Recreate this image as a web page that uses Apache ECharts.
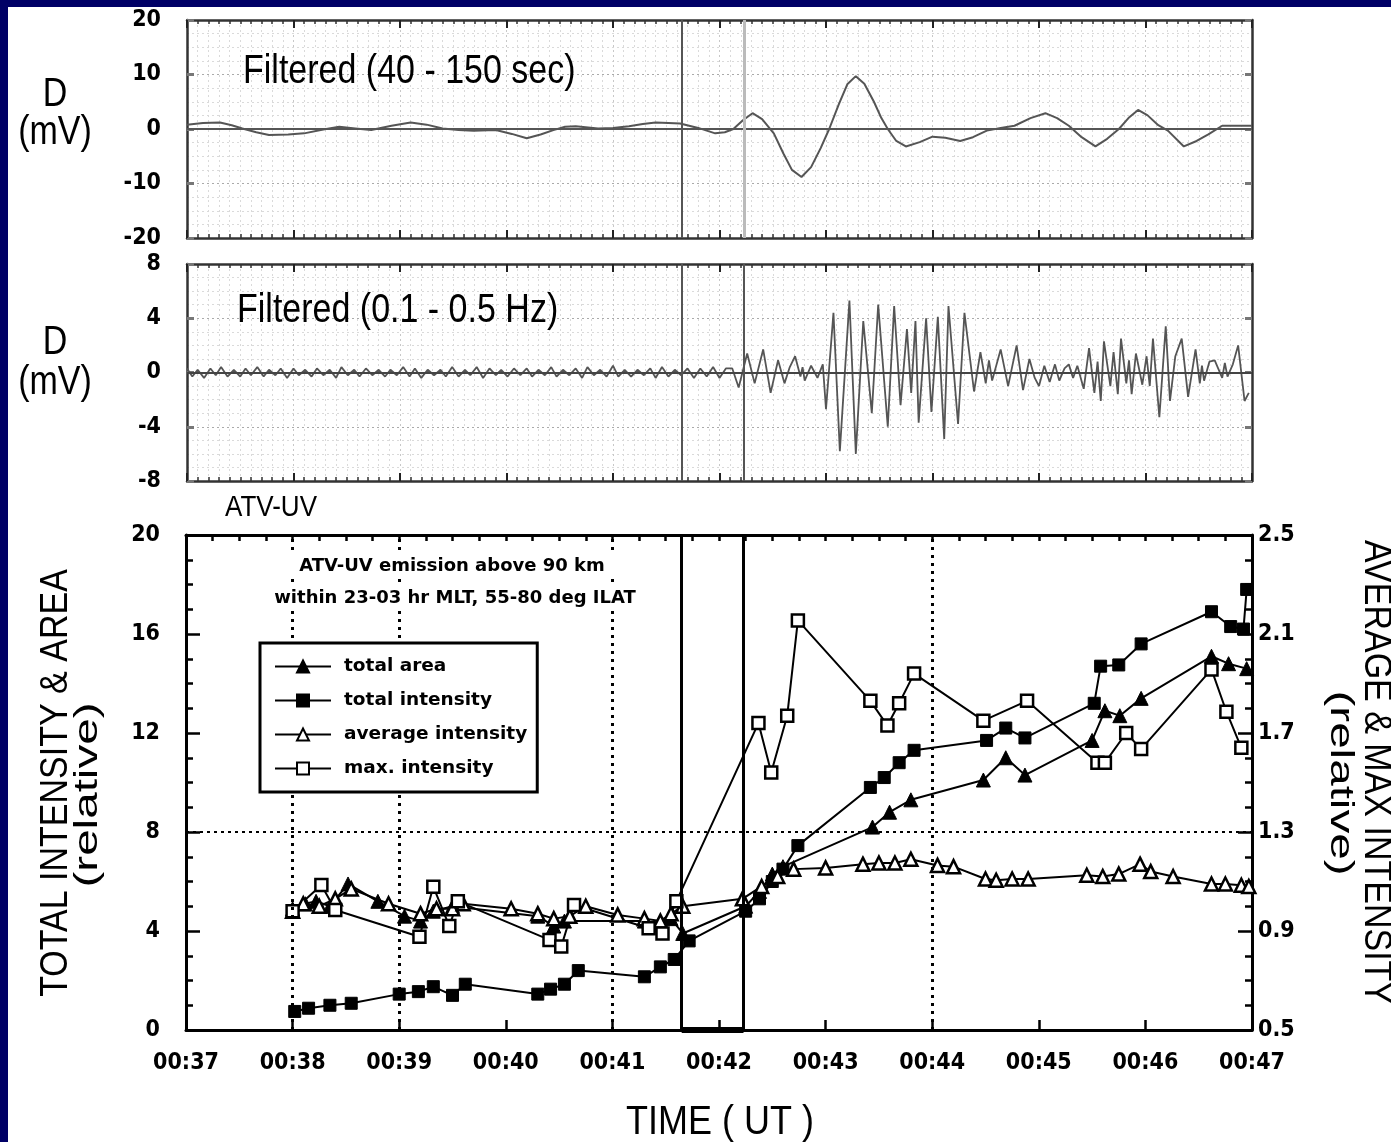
<!DOCTYPE html>
<html><head><meta charset="utf-8">
<script src="https://cdn.jsdelivr.net/npm/echarts@6/dist/echarts.min.js"></script>
<style>html,body{margin:0;padding:0;background:#fff}#c{width:1391px;height:1142px}</style>
</head><body><div id="c"></div>
<script>
// ---------- data ----------
const timeLabels = ['00:37','00:38','00:39','00:40','00:41','00:42','00:43','00:44','00:45','00:46','00:47'];
const eventTimes = [41.65, 42.23];
const dottedTimes = [38, 39, 41, 44];
const dottedLevel = 8;

const seriesNames = ['total area', 'total intensity', 'average intensity', 'max. intensity'];

// Filtered (40 - 150 sec), [time (min after 00:00), mV]
const p1Signal = [[37.00,0.8],[37.15,1.1],[37.31,1.2],[37.42,0.7],[37.52,0.1],[37.65,-0.6],[37.77,-1.1],[37.95,-1.0],[38.10,-0.8],[38.28,-0.1],[38.43,0.4],[38.58,0.1],[38.73,-0.2],[38.92,0.6],[39.10,1.2],[39.25,0.8],[39.40,0.1],[39.55,-0.2],[39.69,-0.3],[39.90,-0.2],[40.05,-0.9],[40.19,-1.7],[40.32,-1.0],[40.44,-0.2],[40.55,0.4],[40.65,0.5],[40.86,0.1],[41.00,0.2],[41.15,0.5],[41.28,0.9],[41.40,1.2],[41.52,1.1],[41.63,1.0],[41.80,0.2],[41.96,-0.8],[42.05,-0.6],[42.13,0.0],[42.22,1.6],[42.31,2.9],[42.40,1.8],[42.51,-0.8],[42.60,-4.5],[42.68,-7.5],[42.77,-8.8],[42.86,-7.0],[42.95,-3.5],[43.03,0.0],[43.12,4.5],[43.20,8.2],[43.28,9.7],[43.36,8.3],[43.45,5.0],[43.52,2.0],[43.58,0.0],[43.66,-2.2],[43.75,-3.2],[43.88,-2.4],[44.00,-1.4],[44.12,-1.6],[44.26,-2.2],[44.38,-1.5],[44.51,-0.3],[44.64,0.2],[44.77,0.6],[44.92,2.0],[45.06,2.9],[45.17,2.0],[45.28,0.6],[45.40,-1.5],[45.53,-3.2],[45.64,-1.8],[45.75,0.0],[45.84,2.0],[45.93,3.5],[46.02,2.5],[46.12,0.7],[46.21,-0.3],[46.36,-3.2],[46.48,-2.2],[46.59,-1.0],[46.72,0.6],[46.85,0.6],[47.00,0.6]];

// Filtered (0.1 - 0.5 Hz), [time, mV]
const p2Signal = [[37.00,0.3],[37.05,-0.3],[37.10,0.2],[37.16,-0.4],[37.22,0.3],[37.27,-0.2],[37.32,0.4],[37.38,-0.3],[37.44,0.2],[37.50,-0.3],[37.55,0.3],[37.60,-0.2],[37.66,0.4],[37.72,-0.3],[37.77,0.2],[37.83,-0.2],[37.88,0.3],[37.94,-0.4],[38.00,0.3],[38.05,-0.2],[38.11,0.2],[38.17,-0.3],[38.22,0.3],[38.28,-0.2],[38.34,0.2],[38.40,-0.4],[38.45,0.4],[38.51,-0.2],[38.57,0.2],[38.62,-0.3],[38.68,0.3],[38.74,-0.2],[38.80,0.2],[38.86,-0.3],[38.91,0.2],[38.97,-0.2],[39.03,0.4],[39.09,-0.3],[39.14,0.3],[39.20,-0.4],[39.26,0.2],[39.32,-0.2],[39.38,0.2],[39.43,-0.3],[39.49,0.4],[39.55,-0.3],[39.61,0.2],[39.66,-0.2],[39.72,0.4],[39.78,-0.4],[39.84,0.3],[39.90,-0.2],[39.95,0.2],[40.01,-0.3],[40.07,0.3],[40.13,-0.2],[40.19,0.3],[40.24,-0.3],[40.30,0.2],[40.36,-0.2],[40.42,0.4],[40.47,-0.3],[40.53,0.2],[40.59,-0.2],[40.65,0.3],[40.71,-0.4],[40.76,0.4],[40.82,-0.2],[40.88,0.2],[40.94,-0.3],[41.00,0.5],[41.05,-0.3],[41.11,0.2],[41.17,-0.3],[41.23,0.2],[41.29,-0.2],[41.35,0.3],[41.40,-0.4],[41.46,0.4],[41.52,-0.3],[41.58,0.2],[41.64,-0.2],[41.70,0.3],[41.76,-0.4],[41.82,0.3],[41.88,-0.3],[41.94,0.4],[42.00,-0.4],[42.06,0.3],
[42.12,0.3],[42.18,-1.1],[42.26,1.4],[42.33,-0.8],[42.41,1.7],[42.48,-1.5],[42.55,0.9],[42.61,-0.8],[42.66,0.4],[42.71,1.2],[42.76,-0.3],[42.78,0.4],[42.80,-0.6],[42.86,0.5],[42.92,-0.4],[42.97,0.6],[43.00,-2.7],[43.07,4.4],[43.13,-5.8],[43.22,5.3],[43.28,-6.0],[43.35,3.8],[43.43,-3.0],[43.49,5.0],[43.58,-4.0],[43.64,4.9],[43.70,-2.4],[43.76,3.2],[43.80,-1.5],[43.84,3.8],[43.87,-3.7],[43.94,4.0],[43.99,-2.9],[44.05,4.1],[44.11,-4.9],[44.15,4.9],[44.24,-3.8],[44.30,4.4],[44.39,-1.4],[44.45,1.5],[44.50,-0.8],[44.53,0.9],[44.56,-0.6],[44.64,1.7],[44.71,-1.0],[44.79,2.0],[44.85,-1.3],[44.91,1.0],[44.96,-0.4],[45.00,-1.0],[45.05,0.5],[45.10,-0.7],[45.15,0.6],[45.19,-0.6],[45.24,0.3],[45.28,0.6],[45.32,-0.4],[45.36,0.5],[45.42,-1.2],[45.47,1.8],[45.52,-1.5],[45.55,0.8],[45.58,-2.1],[45.61,2.3],[45.67,-1.0],[45.70,1.5],[45.74,-1.6],[45.77,2.5],[45.82,-0.8],[45.845,0.9],[45.87,-1.6],[45.91,1.4],[45.97,-0.9],[46.01,1.2],[46.04,-1.0],[46.07,2.5],[46.13,-3.3],[46.19,3.4],[46.23,-2.1],[46.28,1.2],[46.34,2.5],[46.40,-1.8],[46.47,1.7],[46.51,-0.8],[46.53,0.5],[46.55,-0.6],[46.60,0.8],[46.65,0.9],[46.72,-0.4],[46.745,0.7],[46.77,-0.3],[46.82,0.6],[46.87,2.0],[46.93,-2.1],[46.97,-1.5]];

// ATV-UV (left axis, relative)
const totalArea = [[38.00,4.9],[38.12,5.1],[38.22,5.2],[38.35,5.0],[38.52,5.9],[38.80,5.2],[39.05,4.6],[39.20,4.4],[39.32,4.8],[39.50,5.0],[40.30,4.6],[40.45,4.2],[40.55,4.4],[41.30,4.4],[41.45,4.3],[41.55,4.5],[41.66,3.9],[42.25,5.0],[42.38,5.6],[42.50,6.3],[42.60,6.6],[43.44,8.2],[43.60,8.8],[43.80,9.3],[44.48,10.1],[44.69,11.0],[44.87,10.3],[45.50,11.7],[45.62,12.9],[45.76,12.7],[45.96,13.4],[46.62,15.1],[46.78,14.8],[46.95,14.6]];
const totalIntensity = [[38.02,0.75],[38.15,0.88],[38.35,1.0],[38.55,1.08],[39.00,1.45],[39.18,1.55],[39.32,1.75],[39.50,1.4],[39.62,1.85],[40.30,1.45],[40.42,1.65],[40.55,1.85],[40.68,2.4],[41.30,2.15],[41.45,2.55],[41.58,2.85],[41.72,3.6],[42.25,4.8],[42.38,5.3],[42.50,6.0],[42.60,6.5],[42.74,7.45],[43.42,9.8],[43.55,10.2],[43.69,10.8],[43.83,11.3],[44.51,11.7],[44.69,12.2],[44.87,11.8],[45.52,13.2],[45.58,14.7],[45.75,14.75],[45.96,15.6],[46.62,16.9],[46.80,16.3],[46.92,16.2],[46.95,17.8]];
// right axis
const averageIntensity = [[38.00,0.98],[38.10,1.01],[38.25,1.0],[38.40,1.03],[38.55,1.07],[38.90,1.01],[39.20,0.97],[39.35,0.99],[39.50,0.99],[39.60,1.01],[40.05,0.99],[40.30,0.97],[40.45,0.95],[40.60,0.96],[40.75,1.0],[41.05,0.965],[41.30,0.95],[41.45,0.94],[41.55,0.97],[41.66,1.0],[42.22,1.03],[42.40,1.08],[42.55,1.12],[42.70,1.15],[43.00,1.155],[43.35,1.17],[43.50,1.175],[43.65,1.175],[43.80,1.19],[44.05,1.165],[44.20,1.16],[44.50,1.11],[44.60,1.105],[44.75,1.11],[44.90,1.11],[45.45,1.125],[45.60,1.12],[45.75,1.13],[45.95,1.17],[46.05,1.14],[46.26,1.12],[46.62,1.09],[46.75,1.09],[46.90,1.085],[46.97,1.08]];
const maxIntensity = [[38.00,0.98],[38.27,1.086],[38.40,0.985],[39.19,0.877],[39.32,1.079],[39.47,0.92],[39.55,1.02],[40.41,0.864],[40.52,0.837],[40.64,1.005],[41.34,0.911],[41.47,0.89],[41.60,1.02],[42.37,1.74],[42.49,1.54],[42.64,1.77],[42.74,2.155],[43.42,1.83],[43.58,1.73],[43.69,1.82],[43.83,1.94],[44.48,1.75],[44.89,1.83],[45.55,1.58],[45.62,1.58],[45.82,1.70],[45.96,1.635],[46.62,1.957],[46.76,1.786],[46.90,1.64]];

// ---------- styling helpers ----------
const NARROW = "'Liberation Sans Narrow','DejaVu Sans Condensed','Arial Narrow',sans-serif";
const SANS = "'Liberation Sans',Arial,sans-serif";
const DJ = "'DejaVu Sans',sans-serif";

function label(text, x, y, size, o) {
  o = o || {};
  return {
    type: 'text', x: x, y: y, rotation: o.rot || 0, scaleX: o.sx || 1, scaleY: o.sy || 1, z: 100,
    style: {
      text: text, x: 0, y: 0, fill: '#000',
      font: (o.weight || 'normal') + ' ' + size + 'px ' + (o.family || SANS),
      align: o.align || 'center', textAlign: o.align || 'center',
      verticalAlign: 'middle', textVerticalAlign: 'middle',
      backgroundColor: o.bg, padding: o.pad
    }
  };
}

const tickLabel = { show: true, color: '#000', fontFamily: NARROW, fontWeight: 'bold', fontSize: 23 };

function topPanelX(grid, pos) {
  return {
    gridIndex: grid, type: 'value', min: 37, max: 47, interval: 1, position: pos,
    axisLine: { show: true, onZero: false, lineStyle: { color: '#333', width: 2.5 } },
    axisTick: { show: true, inside: true, length: 8, lineStyle: { color: '#222', width: 2 } },
    minorTick: { show: true, splitNumber: 10, length: 4, lineStyle: { color: '#333', width: 1.5 } },
    axisLabel: { show: false },
    splitLine: { show: pos === 'bottom', lineStyle: { color: '#c8c8c8', type: [2, 3], width: 1 } },
    minorSplitLine: { show: pos === 'bottom', lineStyle: { color: '#dadada', type: [2, 3], width: 1 } }
  };
}
function topPanelY(grid, pos, lim, step, minorN) {
  return {
    gridIndex: grid, type: 'value', min: -lim, max: lim, interval: step, position: pos,
    axisLine: { show: true, onZero: false, lineStyle: { color: '#333', width: 2.5 } },
    axisTick: { show: true, inside: true, length: 7, lineStyle: { color: '#777', width: 3 } },
    minorTick: { show: false, splitNumber: minorN },
    axisLabel: pos === 'left' ? Object.assign({ margin: 26 }, tickLabel) : { show: false },
    splitLine: { show: pos === 'left', lineStyle: { color: '#aaa', type: [2, 3], width: 1 } },
    minorSplitLine: { show: pos === 'left', lineStyle: { color: '#dadada', type: [2, 3], width: 1 } }
  };
}

const dotted = { color: '#000', width: 3, type: [3, 5] };
const markLines3 = dottedTimes.map(t => ({ xAxis: t, lineStyle: dotted }))
  .concat([{ yAxis: dottedLevel, lineStyle: { color: '#000', width: 2, type: [3, 4] } }])
  .concat(eventTimes.map(t => ({ xAxis: t, lineStyle: { color: '#000', width: 3, type: 'solid' } })))
  .concat([[{ coord: [eventTimes[0], 0] }, { coord: [eventTimes[1], 0], lineStyle: { color: '#000', width: 6, type: 'solid' } }]]);

function uvSeries(name, data, yIdx, symbol, filled, size) {
  return {
    name: name, type: 'line', xAxisIndex: 4, yAxisIndex: yIdx, data: data,
    symbol: symbol, symbolSize: size, showAllSymbol: true,
    lineStyle: { color: '#000', width: 2 },
    itemStyle: filled ? { color: '#000', borderColor: '#000', borderWidth: 1 } : { color: '#fff', borderColor: '#000', borderWidth: 2.5 },
    z: 3
  };
}

const s1 = uvSeries(seriesNames[0], totalArea, 4, 'triangle', true, 14);
s1.markLine = { silent: true, symbol: ['none', 'none'], label: { show: false }, animation: false, data: markLines3 };

const option = {
  animation: false,
  backgroundColor: '#fff',
  grid: [
    { left: 187, top: 20, width: 1065, height: 218 },
    { left: 187, top: 264, width: 1065, height: 217 },
    { left: 186, top: 535, width: 1066, height: 495 }
  ],
  xAxis: [
    topPanelX(0, 'bottom'), topPanelX(0, 'top'),
    topPanelX(1, 'bottom'), topPanelX(1, 'top'),
    {
      gridIndex: 2, type: 'value', min: 37, max: 47, interval: 1, position: 'bottom',
      axisLine: { show: true, onZero: false, lineStyle: { color: '#000', width: 3 } },
      axisTick: { show: true, inside: true, length: 10, lineStyle: { color: '#000', width: 2.5 } },
      axisLabel: Object.assign({ margin: 22, formatter: v => timeLabels[Math.round(v - 37)] }, tickLabel),
      splitLine: { show: false }
    },
    {
      gridIndex: 2, type: 'value', min: 37, max: 47, interval: 0.25, position: 'top',
      axisLine: { show: true, onZero: false, lineStyle: { color: '#000', width: 3 } },
      axisTick: { show: true, inside: true, length: 6, lineStyle: { color: '#000', width: 2.5 } },
      axisLabel: { show: false }, splitLine: { show: false }
    }
  ],
  yAxis: [
    topPanelY(0, 'left', 20, 10, 4), topPanelY(0, 'right', 20, 10, 4),
    topPanelY(1, 'left', 8, 4, 4), topPanelY(1, 'right', 8, 4, 4),
    {
      gridIndex: 2, type: 'value', min: 0, max: 20, interval: 4, position: 'left',
      axisLine: { show: true, onZero: false, lineStyle: { color: '#000', width: 3 } },
      axisTick: { show: true, inside: true, length: 14, lineStyle: { color: '#000', width: 2.5 } },
      minorTick: { show: true, splitNumber: 4, length: 7, lineStyle: { color: '#000', width: 2.5 } },
      axisLabel: Object.assign({ margin: 26 }, tickLabel), splitLine: { show: false }
    },
    {
      gridIndex: 2, type: 'value', min: 0.5, max: 2.5, interval: 0.4, position: 'right',
      axisLine: { show: true, onZero: false, lineStyle: { color: '#000', width: 3 } },
      axisTick: { show: true, inside: true, length: 14, lineStyle: { color: '#000', width: 2.5 } },
      minorTick: { show: true, splitNumber: 4, length: 7, lineStyle: { color: '#000', width: 2.5 } },
      axisLabel: Object.assign({ margin: 6, formatter: v => v.toFixed(1) }, tickLabel), splitLine: { show: false }
    }
  ],
  legend: {
    data: seriesNames, orient: 'vertical', left: 260, top: 643,
    itemWidth: 56, itemHeight: 15, itemGap: 15,
    padding: [14, 10, 14, 14], borderColor: '#000', borderWidth: 3, backgroundColor: '#fff',
    selectedMode: false, z: 10,
    textStyle: { fontFamily: DJ, fontWeight: 'bold', fontSize: 18.5, color: '#000', padding: [0, 0, 0, 8] }
  },
  series: [
    {
      type: 'line', xAxisIndex: 0, yAxisIndex: 0, data: p1Signal, symbol: 'none',
      lineStyle: { color: '#555', width: 2 }, z: 3,
      markLine: {
        silent: true, symbol: ['none', 'none'], label: { show: false }, animation: false,
        data: [
          { yAxis: 0, lineStyle: { color: '#555', width: 2, type: 'solid' } },
          { xAxis: eventTimes[0], lineStyle: { color: '#555', width: 2, type: 'solid' } },
          { xAxis: eventTimes[1], lineStyle: { color: '#bbb', width: 3, type: 'solid' } }
        ]
      }
    },
    {
      type: 'line', xAxisIndex: 2, yAxisIndex: 2, data: p2Signal, symbol: 'none',
      lineStyle: { color: '#555', width: 1.8 }, z: 3,
      markLine: {
        silent: true, symbol: ['none', 'none'], label: { show: false }, animation: false,
        data: [
          { yAxis: 0, lineStyle: { color: '#444', width: 2, type: 'solid' } },
          { xAxis: eventTimes[0], lineStyle: { color: '#555', width: 2, type: 'solid' } },
          { xAxis: eventTimes[1], lineStyle: { color: '#555', width: 2, type: 'solid' } }
        ]
      }
    },
    s1,
    uvSeries(seriesNames[1], totalIntensity, 4, 'rect', true, 12),
    uvSeries(seriesNames[2], averageIntensity, 5, 'triangle', false, 13),
    uvSeries(seriesNames[3], maxIntensity, 5, 'rect', false, 12)
  ],
  graphic: [
    { type: 'rect', shape: { x: 0, y: 0, width: 1391, height: 7 }, style: { fill: '#000066' }, z: 200 },
    { type: 'rect', shape: { x: 0, y: 0, width: 8, height: 1142 }, style: { fill: '#000066' }, z: 200 },
    label('D', 55, 95, 34, { sy: 1.2 }),
    label('(mV)', 55, 133, 34, { sy: 1.2 }),
    label('D', 55, 343, 34, { sy: 1.2 }),
    label('(mV)', 55, 383, 34, { sy: 1.2 }),
    label('Filtered (40 - 150 sec)', 243, 72, 34, { align: 'left', sy: 1.2 }),
    label('Filtered (0.1 - 0.5 Hz)', 237, 311, 34, { align: 'left', sy: 1.2 }),
    label('ATV-UV', 225, 508, 26, { align: 'left', sy: 1.15 }),
    label('ATV-UV emission above 90 km', 452, 566, 18, { weight: 'bold', family: DJ, bg: '#fff', pad: [4, 12, 4, 12] }),
    label('within 23-03 hr MLT, 55-80 deg ILAT', 455, 598, 18, { weight: 'bold', family: DJ, bg: '#fff', pad: [4, 12, 4, 12] }),
    label('TOTAL INTENSITY & AREA', 56, 783, 34, { rot: Math.PI / 2, sy: 1.15 }),
    label('(relative)', 88, 795, 34, { rot: Math.PI / 2, sx: 1.4, sy: 1.0 }),
    label('AVERAGE & MAX INTENSITY', 1376, 772, 34, { rot: -Math.PI / 2, sy: 1.15 }),
    label('(relative)', 1340, 783, 34, { rot: -Math.PI / 2, sx: 1.4, sy: 1.0 }),
    label('TIME ( UT )', 720, 1123, 36, { sy: 1.15 })
  ]
};

const chart = echarts.init(document.getElementById('c'), null, { renderer: 'canvas' });
chart.setOption(option);
</script>
</body></html>
